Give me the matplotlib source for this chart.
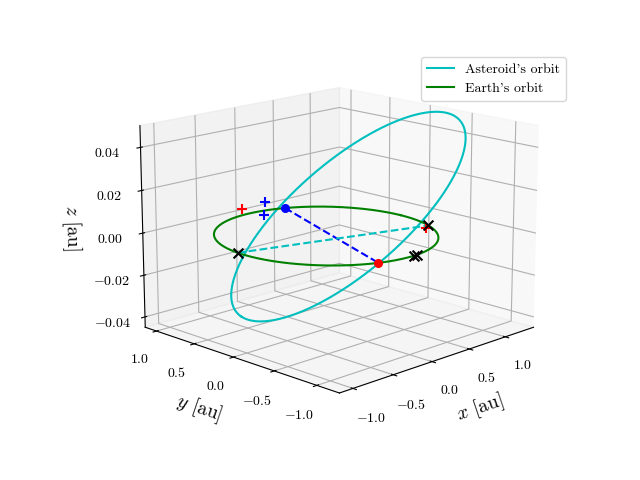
import numpy as np
import matplotlib
matplotlib.use("Agg")
import matplotlib.pyplot as plt

plt.rcParams["font.family"] = "serif"
plt.rcParams["font.serif"] = ["cmr10"]
plt.rcParams["mathtext.fontset"] = "cm"
plt.rcParams["axes.formatter.use_mathtext"] = True
plt.rcParams["axes.unicode_minus"] = True

# Orbital elements (asteroid) and Earth
ast_a, ast_e, ast_inc_deg, ast_node_deg, ast_peri_deg = 1.05, 0.2, 2.3, 250.0, 270.0
earth_r = 1.0
# heliocentric longitudes (deg) of marked points
node_pts_deg = [66.0, 250.0]          # blue (descending), red (ascending) nodes
earth_x_deg = [174.0, 335.0]          # black x joined by cyan dashed line
earth_x2_deg = [273.0, 275.0]         # pair of black x
red_plus_deg = [94.0, 338.0]
red_plus_z = [0.003, -0.002]
blue_plus_deg = [78.0, 79.0]
blue_plus_z = [0.004, -0.002]

def ast_xyz(nu_deg):
    nu = np.radians(np.asarray(nu_deg, float))
    i, O, w = np.radians([ast_inc_deg, ast_node_deg, ast_peri_deg])
    r = ast_a * (1 - ast_e**2) / (1 + ast_e * np.cos(nu))
    u = w + nu
    x = r * (np.cos(O) * np.cos(u) - np.sin(O) * np.sin(u) * np.cos(i))
    y = r * (np.sin(O) * np.cos(u) + np.cos(O) * np.sin(u) * np.cos(i))
    z = r * np.sin(u) * np.sin(i)
    return x, y, z

def ring_xyz(th_deg, z=None):
    t = np.radians(np.asarray(th_deg, float))
    zz = 0 * t if z is None else np.asarray(z, float)
    return earth_r * np.cos(t), earth_r * np.sin(t), zz

fig = plt.figure(figsize=(6.4, 4.8), dpi=100)
ax = fig.add_subplot(projection="3d")
pos = ax.get_position()
ax.set_position([pos.x0 + 0.01, pos.y0 + 0.02, pos.width, pos.height])
nu = np.linspace(0, 360, 400)
l1, = ax.plot(*ast_xyz(nu), color="c", label="Asteroid's orbit")
l2, = ax.plot(*ring_xyz(nu), color="g", label="Earth's orbit")

bx, by, bz = ring_xyz(node_pts_deg)
ax.plot(bx, by, bz, "b--")
ax.scatter([bx[0]], [by[0]], [bz[0]], color="b", s=30, depthshade=False)
ax.scatter([bx[1]], [by[1]], [bz[1]], color="r", s=30, depthshade=False)
nx, ny, nz = ring_xyz(earth_x_deg)
ax.plot(nx, ny, nz, "c--")
ax.scatter(nx, ny, nz, marker="x", color="k", s=50, depthshade=False)
ax.scatter(*ring_xyz(earth_x2_deg), marker="x", color="k", s=50, depthshade=False)
ax.scatter(*ring_xyz(red_plus_deg, red_plus_z), marker="+", color="r", s=60, depthshade=False)
ax.scatter(*ring_xyz(blue_plus_deg, blue_plus_z), marker="+", color="b", s=60, depthshade=False)

ax.set_xlabel("$x$ [au]", fontsize=14)
ax.set_ylabel("$y$ [au]", fontsize=14)
ax.set_zlabel("$z$ [au]", fontsize=14)
ax.set_xticks([-1.0, -0.5, 0.0, 0.5, 1.0])
ax.set_yticks([-1.0, -0.5, 0.0, 0.5, 1.0])
ax.set_zticks([-0.04, -0.02, 0.0, 0.02, 0.04])
ax.set_zlim(-0.045, 0.05)
ax.view_init(elev=15, azim=-135)
ax.set_box_aspect(None, zoom=1.17)
fig.legend(handles=[l1, l2], loc="upper right", bbox_to_anchor=(0.895, 0.895))
fig.savefig("out.png")
